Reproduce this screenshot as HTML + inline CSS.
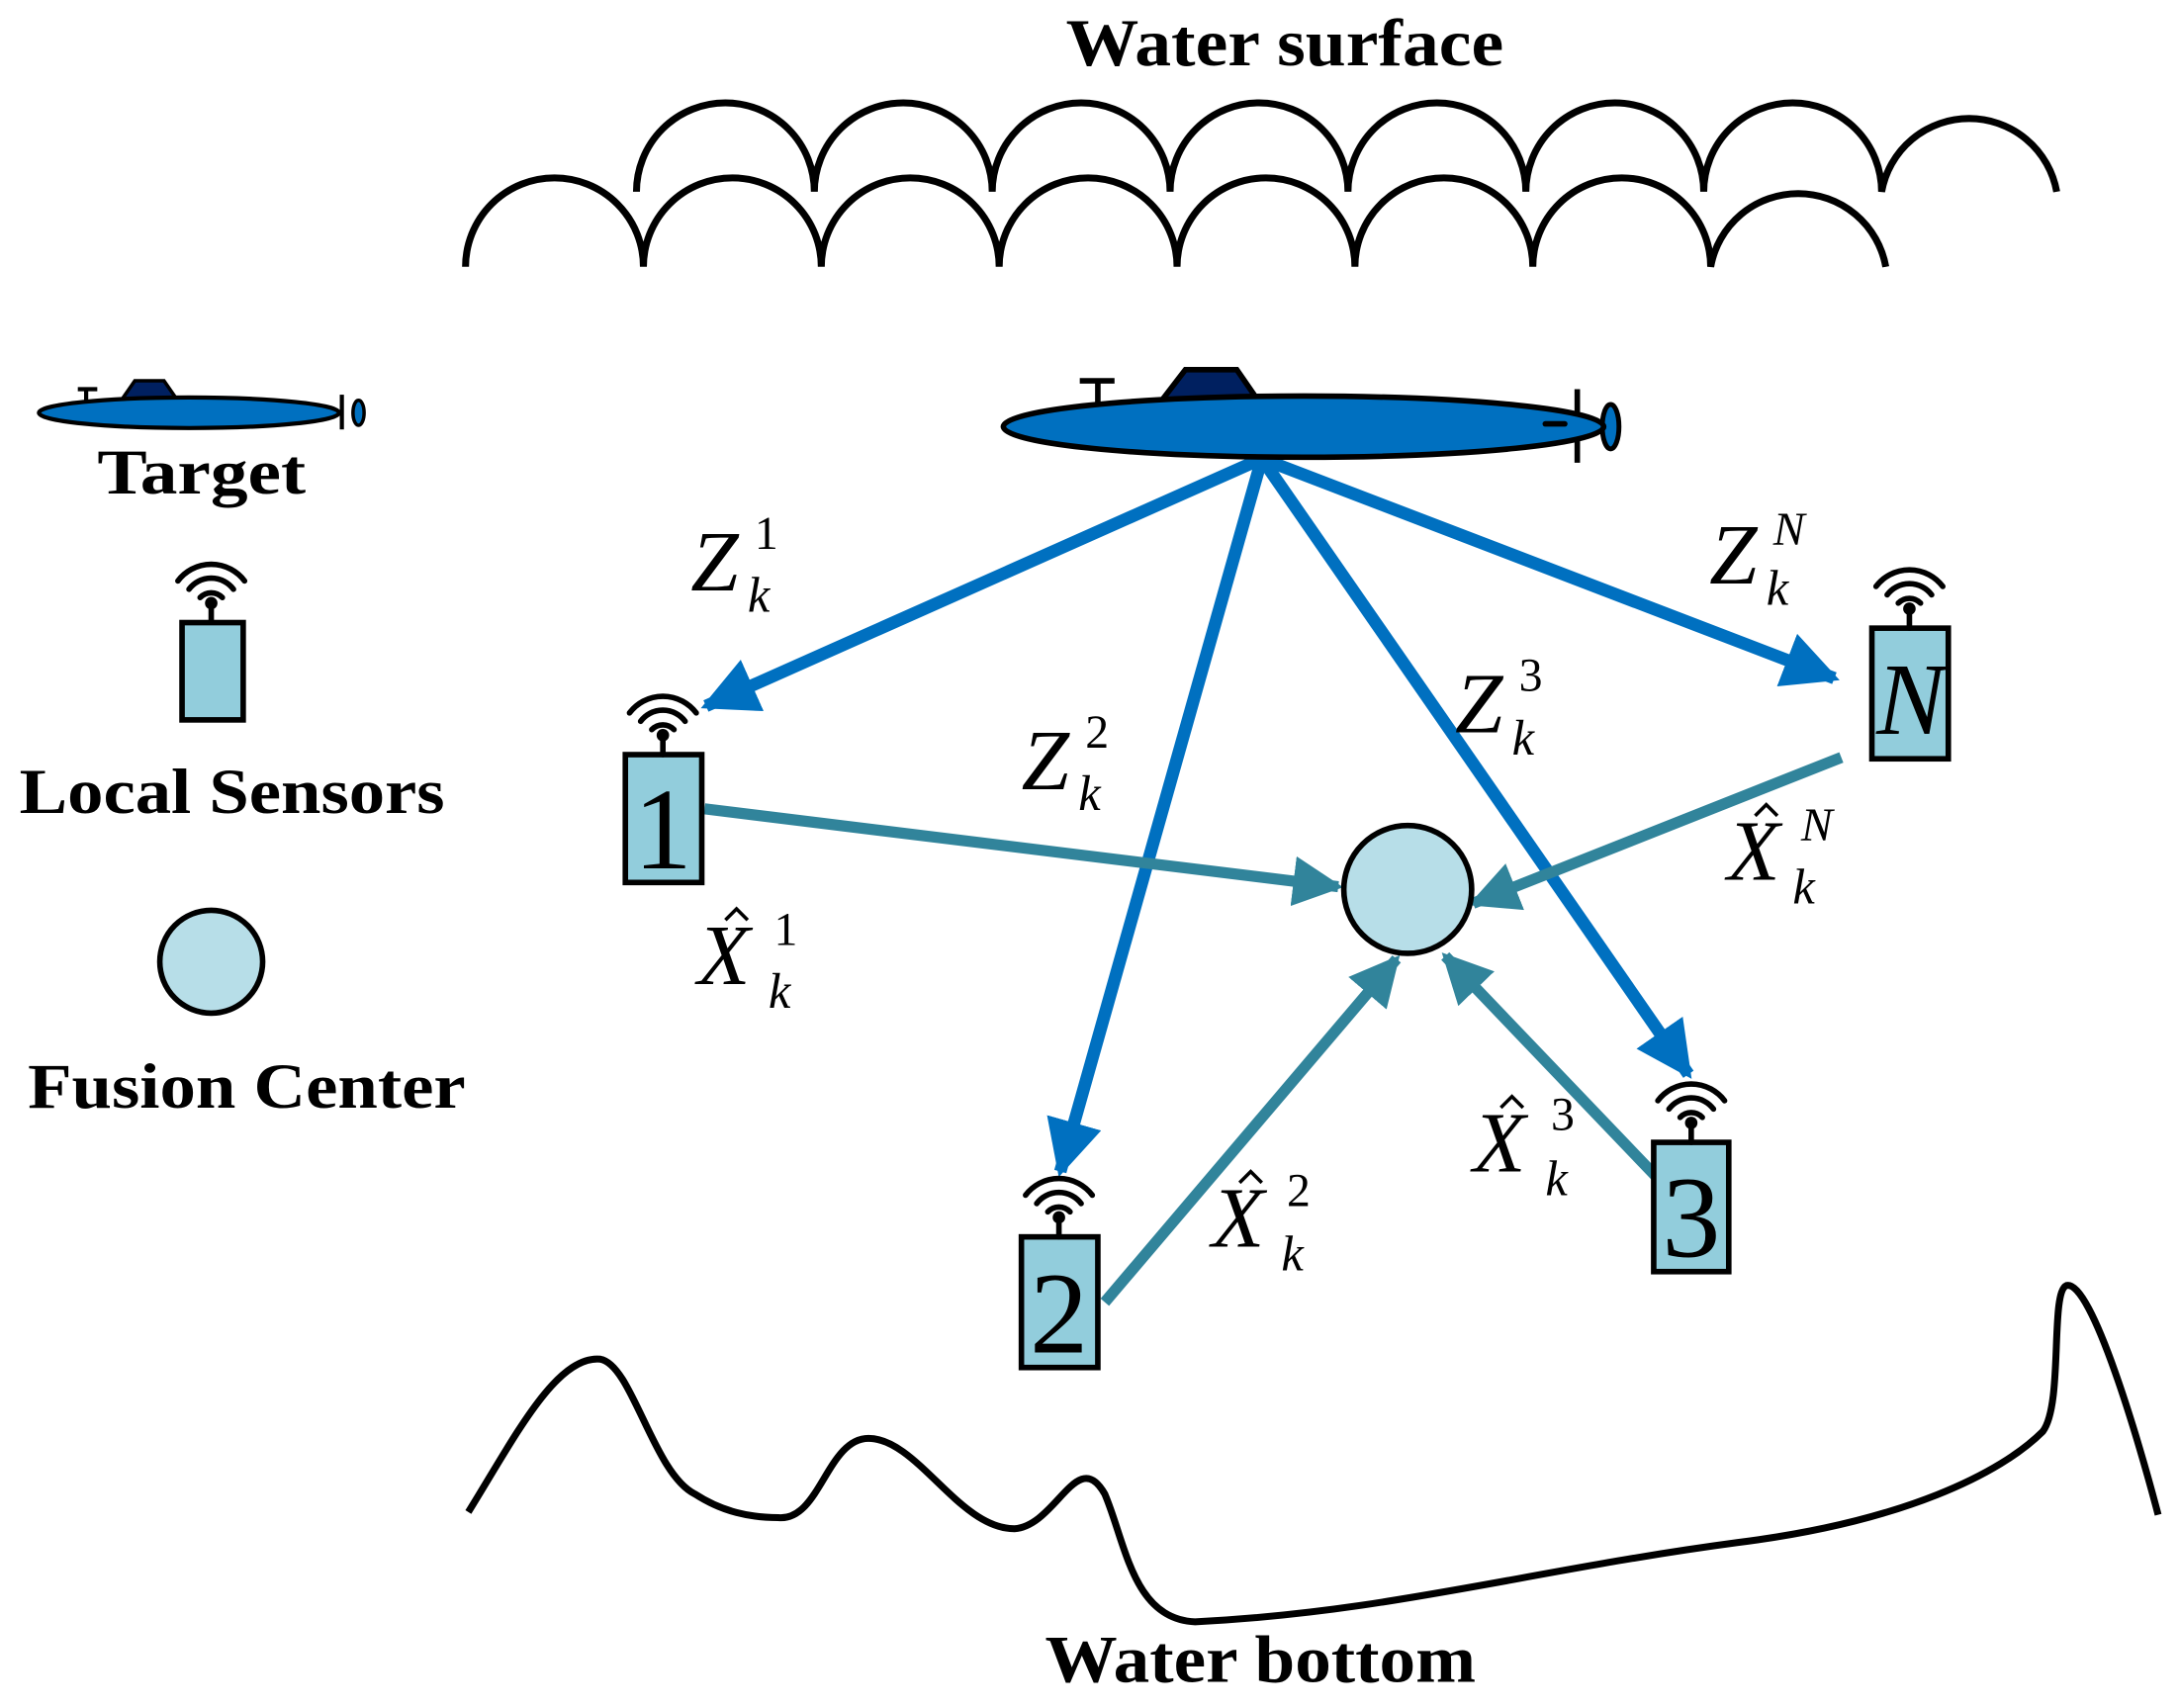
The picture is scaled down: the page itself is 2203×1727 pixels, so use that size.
<!DOCTYPE html>
<html><head><style>html,body{margin:0;padding:0;background:#fff}svg{display:block}</style></head>
<body>
<svg width="2203" height="1727" viewBox="0 0 1568 1229" preserveAspectRatio="none" xmlns="http://www.w3.org/2000/svg" font-family="'Liberation Serif', serif">
<defs>
<marker id="ab" viewBox="0 0 10 10" refX="9" refY="5" markerWidth="4.5" markerHeight="4.5" orient="auto" markerUnits="strokeWidth"><path d="M0,0 L10,5 L0,10 z" fill="#0070C0"/></marker>
<marker id="at" viewBox="0 0 10 10" refX="9" refY="5" markerWidth="4.5" markerHeight="4.5" orient="auto" markerUnits="strokeWidth"><path d="M0,0 L10,5 L0,10 z" fill="#31849B"/></marker>
<g id="ant" fill="none" stroke="#000" stroke-width="4" stroke-linecap="round">
<path d="M-8,12 A11,11 0 0 1 8,12"/><path d="M-16,6 A20,20 0 0 1 16,6"/><path d="M-24,0 A30,30 0 0 1 24,0"/>
<circle cx="0" cy="16" r="2.5" fill="#000"/><line x1="0" y1="16" x2="0" y2="30"/>
</g>
<path id="hat" d="M-8,8 L0,0 L8,8" fill="none" stroke="#000" stroke-width="2.5"/>
</defs>
<text x="767" y="47" font-size="48" font-weight="bold" textLength="315" lengthAdjust="spacingAndGlyphs">Water surface</text>
<g fill="none" stroke="#000" stroke-width="5">
<path d="M458,138 A64,64 0 0 1 586,138 A64,64 0 0 1 714,138 A64,64 0 0 1 842,138 A64,64 0 0 1 970,138 A64,64 0 0 1 1098,138 A64,64 0 0 1 1226,138 A64,64 0 0 1 1354,138 A64,64 0 0 1 1480,138"/>
<path d="M335,192 A64,64 0 0 1 463,192 A64,64 0 0 1 591,192 A64,64 0 0 1 719,192 A64,64 0 0 1 847,192 A64,64 0 0 1 975,192 A64,64 0 0 1 1103,192 A64,64 0 0 1 1231,192 A64,64 0 0 1 1357,192" fill="#fff"/>
<path d="M337,1088 C370,1035 400,975 432,978 C455,982 470,1060 500,1075 C520,1088 540,1092 560,1092 C590,1095 595,1035 625,1035 C660,1035 690,1100 730,1100 C760,1098 775,1040 795,1075 C810,1110 815,1165 860,1167 C1000,1160 1100,1130 1250,1110 C1370,1095 1440,1060 1470,1030 C1485,1010 1475,930 1487,925 C1505,920 1540,1040 1553,1090"/>
</g>
<text x="752" y="1210" font-size="48" font-weight="bold" textLength="310" lengthAdjust="spacingAndGlyphs">Water bottom</text>
<!-- legend -->
<line x1="62" y1="280" x2="62" y2="290" stroke="#000" stroke-width="3"/><line x1="56" y1="280" x2="70" y2="280" stroke="#000" stroke-width="3"/>
<path d="M88,287 L97,274 L118,274 L127,287 z" fill="#002060" stroke="#000" stroke-width="2.5"/>
<line x1="246" y1="284" x2="246" y2="309" stroke="#000" stroke-width="3"/>
<ellipse cx="258" cy="297" rx="4" ry="9" fill="#0070C0" stroke="#000" stroke-width="2.5"/>
<ellipse cx="136" cy="297" rx="108" ry="11" fill="#0070C0" stroke="#000" stroke-width="3"/>
<text x="70" y="355" font-size="46" font-weight="bold" textLength="150" lengthAdjust="spacingAndGlyphs">Target</text>
<use href="#ant" x="152" y="418"/>
<rect x="131" y="448" width="44" height="70" fill="#92CDDC" stroke="#000" stroke-width="4"/>
<text x="14" y="585" font-size="46" font-weight="bold" textLength="306" lengthAdjust="spacingAndGlyphs">Local Sensors</text>
<circle cx="152" cy="692" r="37" fill="#B7DEE8" stroke="#000" stroke-width="4"/>
<text x="20" y="797" font-size="46" font-weight="bold" textLength="315" lengthAdjust="spacingAndGlyphs">Fusion Center</text>
<!-- arrows blue -->
<g stroke="#0070C0" stroke-width="9" fill="none">
<line x1="908" y1="330" x2="508" y2="508" marker-end="url(#ab)"/>
<line x1="908" y1="330" x2="763" y2="843" marker-end="url(#ab)"/>
<line x1="908" y1="330" x2="1215" y2="773" marker-end="url(#ab)"/>
<line x1="908" y1="330" x2="1320" y2="488" marker-end="url(#ab)"/>
</g>
<!-- big submarine -->
<line x1="790" y1="274" x2="790" y2="292" stroke="#000" stroke-width="4"/><line x1="777" y1="274" x2="802" y2="274" stroke="#000" stroke-width="4"/>
<path d="M833,292 L853,266 L890,266 L908,292 z" fill="#002060" stroke="#000" stroke-width="4"/>
<line x1="1135" y1="280" x2="1135" y2="333" stroke="#000" stroke-width="4"/>
<ellipse cx="1159" cy="307" rx="6" ry="16" fill="#0070C0" stroke="#000" stroke-width="3.5"/>
<ellipse cx="938" cy="307" rx="216" ry="22" fill="#0070C0" stroke="#000" stroke-width="4"/>
<line x1="1112" y1="305" x2="1126" y2="305" stroke="#000" stroke-width="4" stroke-linecap="round"/>
<!-- teal arrows -->
<g stroke="#31849B" stroke-width="8" fill="none">
<line x1="507" y1="582" x2="963" y2="638" marker-end="url(#at)"/>
<line x1="1325" y1="545" x2="1060" y2="650" marker-end="url(#at)"/>
<line x1="795" y1="937" x2="1005" y2="690" marker-end="url(#at)"/>
<line x1="1195" y1="850" x2="1040" y2="688" marker-end="url(#at)"/>
</g>
<circle cx="1013" cy="640" r="46" fill="#B7DEE8" stroke="#000" stroke-width="4"/>
<!-- sensors -->
<g stroke="#000" stroke-width="4" fill="#92CDDC">
<rect x="450" y="543" width="55" height="92"/><rect x="735" y="890" width="55" height="94"/>
<rect x="1190" y="822" width="54" height="93"/><rect x="1347" y="452" width="55" height="94"/>
</g>
<use href="#ant" x="477" y="513"/><use href="#ant" x="762" y="860"/><use href="#ant" x="1217" y="792"/><use href="#ant" x="1374" y="422"/>
<g font-size="84" text-anchor="middle">
<text x="477" y="625">1</text><text x="762" y="973">2</text><text x="1217" y="904">3</text><text x="1375" y="528" font-style="italic" font-size="74">N</text>
</g>
<!-- labels -->
<g font-style="italic" font-size="62">
<text x="497" y="425">Z</text><text x="735" y="568">Z</text><text x="1047" y="527">Z</text><text x="1230" y="420">Z</text>
<text x="502" y="708">X</text><text x="872" y="897">X</text><text x="1060" y="843">X</text><text x="1243" y="633">X</text>
</g>
<g font-style="italic" font-size="36">
<text x="538" y="440">k</text><text x="776" y="583">k</text><text x="1088" y="543">k</text><text x="1271" y="435">k</text>
<text x="553" y="725">k</text><text x="922" y="914">k</text><text x="1112" y="860">k</text><text x="1290" y="650">k</text>
</g>
<g font-size="34">
<text x="543" y="395">1</text><text x="781" y="538">2</text><text x="1093" y="497">3</text><text x="1276" y="392" font-style="italic">N</text>
<text x="557" y="680">1</text><text x="926" y="868">2</text><text x="1116" y="813">3</text><text x="1296" y="605" font-style="italic">N</text>
</g>
<use href="#hat" x="530" y="654"/><use href="#hat" x="900" y="843"/><use href="#hat" x="1088" y="789"/><use href="#hat" x="1271" y="579"/>
</svg>
</body></html>
